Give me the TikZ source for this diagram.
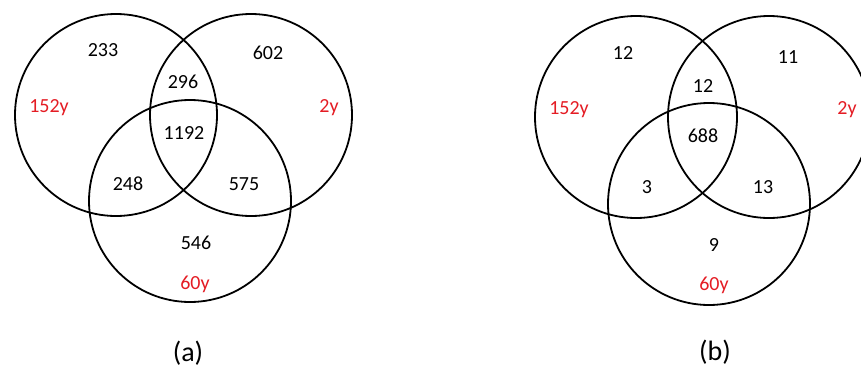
\documentclass[tikz,border=0pt]{standalone}
\usepackage{fontspec}
\setmainfont{Carlito}
\usepackage{xcolor}
\usepackage{tikz}
\definecolor{agered}{RGB}{228,28,36}

\begin{document}
\begin{tikzpicture}[x=1pt,y=-1pt,
    set/.style={line width=1.8pt},
    count/.style={font=\fontsize{20}{24}\selectfont},
    age/.style={font=\fontsize{20}{24}\selectfont, text=agered, text depth=0pt},
    caption/.style={font=\fontsize{28}{32}\selectfont}]
    \useasboundingbox (0,0) rectangle (861,367);
    \clip (0,0) rectangle (861,367);

    % panel (a)
    \draw[set] (116,115) circle (101pt);
    \draw[set] (251,115) circle (101pt);
    \draw[set] (190,201) circle (101pt);
    \node[count] (a-onlyA) at (103,50) {233};
    \node[count] (a-onlyB) at (268,53) {602};
    \node[count] (a-AB) at (183,82) {296};
    \node[count] (a-ABC) at (184,133) {1192};
    \node[count] (a-AC) at (128,184) {248};
    \node[count] (a-BC) at (244,184) {575};
    \node[count] (a-onlyC) at (196,243) {546};
    \node[age] (a-ageA) at (49,106) {152y};
    \node[age] (a-ageB) at (329,106) {2y};
    \node[age] (a-ageC) at (195,283) {60y};
    \node[caption] (a-cap) at (188,353) {(a)};

    % panel (b)
    \draw[set] (636,117) circle (101pt);
    \draw[set] (769,117) circle (101pt);
    \draw[set] (709,204) circle (101pt);
    \node[count] (b-onlyA) at (623,53) {12};
    \node[count] (b-onlyB) at (788,57) {11};
    \node[count] (b-AB) at (703,86) {12};
    \node[count] (b-ABC) at (703,136) {688};
    \node[count] (b-AC) at (647,187) {3};
    \node[count] (b-BC) at (763,187) {13};
    \node[count] (b-onlyC) at (714,245) {9};
    \node[age] (b-ageA) at (569,108) {152y};
    \node[age] (b-ageB) at (847,108) {2y};
    \node[age] (b-ageC) at (714,284) {60y};
    \node[caption] (b-cap) at (715,352) {(b)};
\end{tikzpicture}
\end{document}
